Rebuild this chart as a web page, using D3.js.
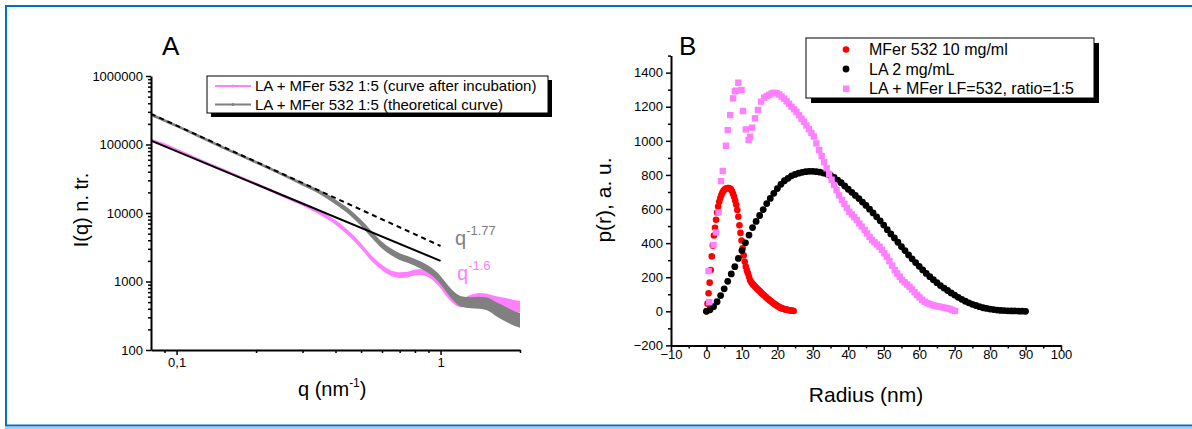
<!DOCTYPE html>
<html><head><meta charset="utf-8">
<script src="https://cdn.jsdelivr.net/npm/d3@7"></script>
<style>
body{margin:0;background:#fff}
svg{display:block}
text{font-family:"Liberation Sans",Arial,sans-serif}
</style>
</head><body>
<svg id="c" width="1192" height="429"></svg>
<script>
// ---------- Panel A data ----------
const qA = [0.08,0.09,0.1,0.12,0.15,0.2,0.25,0.3,0.35,0.4,0.45,0.5,0.55,0.6,0.65,0.7,0.75,0.8,0.85,0.9,0.95,1.0,1.05,1.1,1.15,1.2,1.3,1.4,1.5,1.6,1.7,1.8,1.9,2.0];
const afterI = [116000,99000,83000,61000,42500,26500,18200,13500,10000,7300,5000,3300,2150,1600,1320,1240,1260,1360,1370,1280,1100,900,700,580,510,490,540,575,560,520,490,470,445,430];
const afterErr = [0.05,0.05,0.05,0.05,0.05,0.05,0.05,0.06,0.07,0.08,0.09,0.1,0.1,0.1,0.1,0.1,0.1,0.1,0.1,0.11,0.12,0.13,0.14,0.15,0.16,0.17,0.18,0.18,0.18,0.19,0.2,0.2,0.21,0.22];
const theoI = [272000,224000,187000,135000,90000,55000,37000,26500,20000,14500,10500,7200,4800,3400,2700,2300,2100,1900,1700,1500,1280,1050,820,660,560,510,490,490,470,410,360,320,290,270];
const theoErr = [0.05,0.05,0.05,0.05,0.05,0.05,0.05,0.06,0.07,0.09,0.1,0.11,0.12,0.12,0.12,0.12,0.12,0.12,0.13,0.13,0.14,0.15,0.16,0.17,0.18,0.19,0.2,0.22,0.24,0.26,0.28,0.28,0.28,0.28];
const fitQ = [0.08, 1];
const fitSolidI = [114000, 2000];
const fitDashedI = [280000, 3300];
const yTicksA = [100, 1000, 10000, 100000, 1000000];
const xTicksA = [0.1, 1];
const xTickLabelsA = ["0,1", "1"];
const legendA = ["LA + MFer 532 1:5 (curve after incubation)", "LA + MFer 532 1:5 (theoretical curve)"];

// ---------- Panel B data ----------
const redR = [0,0.3,0.6,0.9,1.2,1.5,1.8,2.1,2.4,2.7,3,3.3,3.6,3.9,4.2,4.5,4.8,5.1,5.4,5.7,6,6.3,6.6,6.9,7.2,7.5,7.8,8.1,8.4,8.7,9,9.3,9.6,9.9,10.2,10.5,10.8,11.1,11.4,11.7,12,12.3,12.6,12.9,13.2,13.5,13.8,14.1,14.4,14.7,15,15.3,15.6,15.9,16.2,16.5,16.8,17.1,17.4,17.7,18,18.3,18.6,18.9,19.2,19.5,19.8,20.1,20.4,20.7,21,21.3,21.6,21.9,22.2,22.5,22.8,23.1,23.4,23.7,24,24.3,24.6];
const redP = [0,45,106,168,242,322,385,445,490,537,580,615,643,665,682,697,707,714,719,722,723,723,720,715,705,690,672,650,625,594,555,505,460,415,369,328,290,262,240,223,203,184,172,163,156,150,143,136,130,124,119,112,106,100,94,88,83,77,72,67,62,57,52,47,43,39,34,30,26,23,20,17,15,13,11,10,9,8,6,5,4,3,2];
const blackR = [0,1,2,3,4,5,6,7,8,9,10,11,12,13,14,15,16,17,18,19,20,21,22,23,24,25,26,27,28,29,30,31,32,33,34,35,36,37,38,39,40,41,42,43,44,45,46,47,48,49,50,51,52,53,54,55,56,57,58,59,60,61,62,63,64,65,66,67,68,69,70,71,72,73,74,75,76,77,78,79,80,81,82,83,84,85,86,87,88,89,90];
const blackP = [0,9,27,56,92,132,176,219,262,310,356,402,447,491,527,562,597,632,662,692,720,745,766,780,795,803,810,815,819,821,821,819,816,811,806,797,786,770,754,735,716,698,680,661,641,621,599,577,554,531,506,479,454,430,405,380,356,331,308,286,264,243,222,203,185,168,151,136,122,108,95,82,70,59,50,41,34,27,21,17,13,10,7,5,4,3,2,2,1,1,0];
const pinkR = [0.6,0.8,2.0,2.7,3.4,4.1,4.6,5.5,6.0,6.7,7.5,8.0,8.4,9.0,9.9,10.3,11.1,11.9,12.3,12.9,13.7,14.5,15.4,16.3,17.0,17.7,18.4,19.1,19.8,20.5,21.2,21.9,22.6,23.3,24.0,24.7,25.4,26.1,26.8,27.5,28.2,28.9,29.6,30.3,31.0,31.8,32.5,33.2,33.9,34.6,35.3,36.0,36.7,37.4,38.2,38.9,39.6,40.3,41.0,41.7,42.4,43.1,43.8,44.6,45.3,46.0,46.7,47.4,48.1,48.8,49.5,50.2,50.9,51.6,52.4,53.1,53.8,54.5,55.2,55.9,56.6,57.3,58.0,58.7,59.4,60.1,60.8,61.6,62.3,63.0,63.7,64.4,65.1,65.8,66.5,67.2,67.9,68.6,69.3,70.1];
const pinkP = [236,54,389,463,580,764,823,971,1063,1151,1249,1290,1294,1341,1298,1175,1067,1005,1024,1077,1132,1181,1230,1253,1262,1270,1278,1282,1280,1272,1260,1248,1232,1218,1200,1185,1170,1150,1130,1112,1090,1068,1046,1025,985,946,910,875,839,806,772,741,710,680,653,630,606,584,568,552,535,515,497,477,457,437,418,405,392,379,360,340,320,294,268,242,222,203,184,170,157,144,128,112,96,82,68,56,48,42,37,33,30,27,24,21,18,14,8,2];
const xTicksB = [-10,0,10,20,30,40,50,60,70,80,90,100];
const yTicksB = [-200,0,200,400,600,800,1000,1200,1400];
const legendB = ["MFer 532 10 mg/ml", "LA 2 mg/mL", "LA + MFer LF=532, ratio=1:5"];

const PINK = "#ff80ff", GRAY = "#808080", RED = "#ff0000";

const svg = d3.select("#c");

// ---------- frame ----------
svg.append("line").attr("x1",5).attr("x2",1192).attr("y1",6).attr("y2",6).attr("stroke","#0070c0").attr("stroke-width",2);
svg.append("line").attr("x1",6).attr("x2",6).attr("y1",5).attr("y2",426).attr("stroke","#0070c0").attr("stroke-width",2);
svg.append("line").attr("x1",5).attr("x2",1192).attr("y1",425.5).attr("y2",425.5).attr("stroke","#0070c0").attr("stroke-width",2);
svg.append("line").attr("x1",5).attr("x2",1192).attr("y1",428).attr("y2",428).attr("stroke","#9ccfff").attr("stroke-width",2);

// ---------- Panel A ----------
const xA = d3.scaleLog().domain([0.08, 2]).range([151, 520]);
const yA = d3.scaleLog().domain([100, 1e6]).range([350, 76]);
const gA = svg.append("g");

const bandA = d3.area().x(d=>xA(d.q)).y0(d=>yA(d.lo)).y1(d=>yA(d.hi)).curve(d3.curveMonotoneX);
const afterData = qA.map((q,i)=>({q, lo: afterI[i]/(1+afterErr[i]), hi: afterI[i]*(1+afterErr[i])}));
const theoData = qA.map((q,i)=>({q, lo: theoI[i]/(1+theoErr[i]), hi: theoI[i]*(1+theoErr[i])}));
gA.append("path").attr("d", bandA(afterData)).attr("fill", PINK);
gA.append("path").attr("d", bandA(theoData)).attr("fill", GRAY);

const lineA = d3.line().x(d=>xA(d[0])).y(d=>yA(d[1]));
gA.append("path").attr("d", lineA(fitQ.map((q,i)=>[q, fitSolidI[i]]))).attr("stroke","#000").attr("stroke-width",2).attr("fill","none");
gA.append("path").attr("d", lineA(fitQ.map((q,i)=>[q, fitDashedI[i]]))).attr("stroke","#000").attr("stroke-width",2).attr("stroke-dasharray","5,4").attr("fill","none");

// minor ticks A
const yMinorA = [];
for (let d = 100; d < 1e6; d *= 10) for (let m = 2; m <= 9; m++) yMinorA.push(d*m);
const xMinorA = [0.09,0.2,0.3,0.4,0.5,0.6,0.7,0.8,0.9,2];

gA.append("g").attr("transform","translate(151,0)")
  .call(d3.axisLeft(yA).tickValues(yTicksA).tickFormat(d3.format("d")).tickSize(5).tickPadding(3).tickSizeOuter(0));
gA.append("g").attr("transform","translate(151,0)")
  .call(d3.axisLeft(yA).tickValues(yMinorA).tickFormat("").tickSize(3).tickSizeOuter(0)).select(".domain").remove();
gA.append("g").attr("transform","translate(0,350)")
  .call(d3.axisBottom(xA).tickValues(xTicksA).tickFormat((d,i)=>xTickLabelsA[i]).tickSize(5).tickPadding(3).tickSizeOuter(0));
gA.append("g").attr("transform","translate(0,350)")
  .call(d3.axisBottom(xA).tickValues(xMinorA).tickFormat("").tickSize(3).tickSizeOuter(0)).select(".domain").remove();

// legend A
const lgA = gA.append("g");
lgA.append("rect").attr("x",211).attr("y",80).attr("width",341).attr("height",37).attr("fill","#000");
lgA.append("rect").attr("x",207).attr("y",76).attr("width",341).attr("height",37).attr("fill","#fff").attr("stroke","#000").attr("stroke-width",1);
[PINK, GRAY].forEach((c,i)=>{
  const y = 86 + i*18.5;
  lgA.append("line").attr("x1",215).attr("x2",251).attr("y1",y).attr("y2",y).attr("stroke",c).attr("stroke-width",2);
  lgA.append("circle").attr("cx",233).attr("cy",y).attr("r",1.5).attr("fill",c);
  lgA.append("text").attr("x",255).attr("y",y+5.3).attr("font-size",15).text(legendA[i]);
});

// exponent labels
const e1 = gA.append("text").attr("x",455).attr("y",245).attr("fill",GRAY).attr("font-size",20);
e1.append("tspan").text("q");
e1.append("tspan").attr("dy",-10).attr("font-size",13).text("-1.77");
const e2 = gA.append("text").attr("x",457).attr("y",280).attr("fill",PINK).attr("font-size",20);
e2.append("tspan").text("q");
e2.append("tspan").attr("dy",-10).attr("font-size",13).text("-1.6");

// titles A
gA.append("text").attr("x",162).attr("y",55).attr("font-size",26).text("A");
gA.append("text").attr("transform","translate(88,210) rotate(-90)").attr("text-anchor","middle").attr("font-size",20).text("I(q) n. tr.");
const xtA = gA.append("text").attr("x",298).attr("y",396).attr("font-size",20);
xtA.append("tspan").text("q (nm");
xtA.append("tspan").attr("dy",-9).attr("font-size",12).text("-1");
xtA.append("tspan").attr("dy",9).text(")");

// ---------- Panel B ----------
const xB = d3.scaleLinear().domain([-10,100]).range([671,1061]);
const yB = d3.scaleLinear().domain([-200,1500]).range([345.4,55.6]);
const gB = svg.append("g");

gB.append("g").attr("transform","translate(671,0)")
  .call(d3.axisLeft(yB).tickValues(yTicksB).tickFormat(d3.format("d")).tickSize(5).tickPadding(3).tickSizeOuter(0));
gB.append("g").attr("transform","translate(671,0)")
  .call(d3.axisLeft(yB).tickValues(d3.range(-100,1501,200)).tickFormat("").tickSize(3).tickSizeOuter(0)).select(".domain").remove();
gB.append("g").attr("transform","translate(0,345.4)")
  .call(d3.axisBottom(xB).tickValues(xTicksB).tickFormat(d3.format("d")).tickSize(5).tickPadding(-1).tickSizeOuter(0));
gB.append("g").attr("transform","translate(0,345.4)")
  .call(d3.axisBottom(xB).tickValues(d3.range(-5,100,10)).tickFormat("").tickSize(3).tickSizeOuter(0)).select(".domain").remove();

gB.append("g").selectAll("circle").data(redR.map((r,i)=>[r,redP[i]])).join("circle")
  .attr("cx",d=>xB(d[0])).attr("cy",d=>yB(d[1])).attr("r",3.3).attr("fill",RED);
gB.append("g").selectAll("circle").data(blackR.map((r,i)=>[r,blackP[i]])).join("circle")
  .attr("cx",d=>xB(d[0])).attr("cy",d=>yB(d[1])).attr("r",3.4).attr("fill","#000");
gB.append("g").selectAll("rect").data(pinkR.map((r,i)=>[r,pinkP[i]])).join("rect")
  .attr("x",d=>xB(d[0])-3.2).attr("y",d=>yB(d[1])-3.2).attr("width",6.4).attr("height",6.4).attr("fill",PINK);

// legend B
const lgB = gB.append("g");
lgB.append("rect").attr("x",811).attr("y",43).attr("width",288).attr("height",60).attr("fill","#000");
lgB.append("rect").attr("x",806).attr("y",38).attr("width",288).attr("height",60).attr("fill","#fff").attr("stroke","#000").attr("stroke-width",1);
lgB.append("circle").attr("cx",846).attr("cy",49.5).attr("r",3.3).attr("fill",RED);
lgB.append("circle").attr("cx",846).attr("cy",69).attr("r",3.4).attr("fill","#000");
lgB.append("rect").attr("x",843).attr("y",85.5).attr("width",6.4).attr("height",6.4).attr("fill",PINK);
legendB.forEach((t,i)=>{
  lgB.append("text").attr("x",869).attr("y",55 + i*19.6).attr("font-size",16).text(t);
});

gB.append("text").attr("x",679).attr("y",55).attr("font-size",26).text("B");
gB.append("text").attr("transform","translate(611,200) rotate(-90)").attr("text-anchor","middle").attr("font-size",21).text("p(r), a. u.");
gB.append("text").attr("x",866).attr("y",402).attr("text-anchor","middle").attr("font-size",21).text("Radius (nm)");

// axis styling
svg.selectAll(".domain").attr("stroke","#000").attr("stroke-width",2);
svg.selectAll(".tick line").attr("stroke","#000").attr("stroke-width",1.5);
svg.selectAll(".tick text").attr("font-size",13).attr("font-family","Liberation Sans, Arial, sans-serif");
</script>
</body></html>
